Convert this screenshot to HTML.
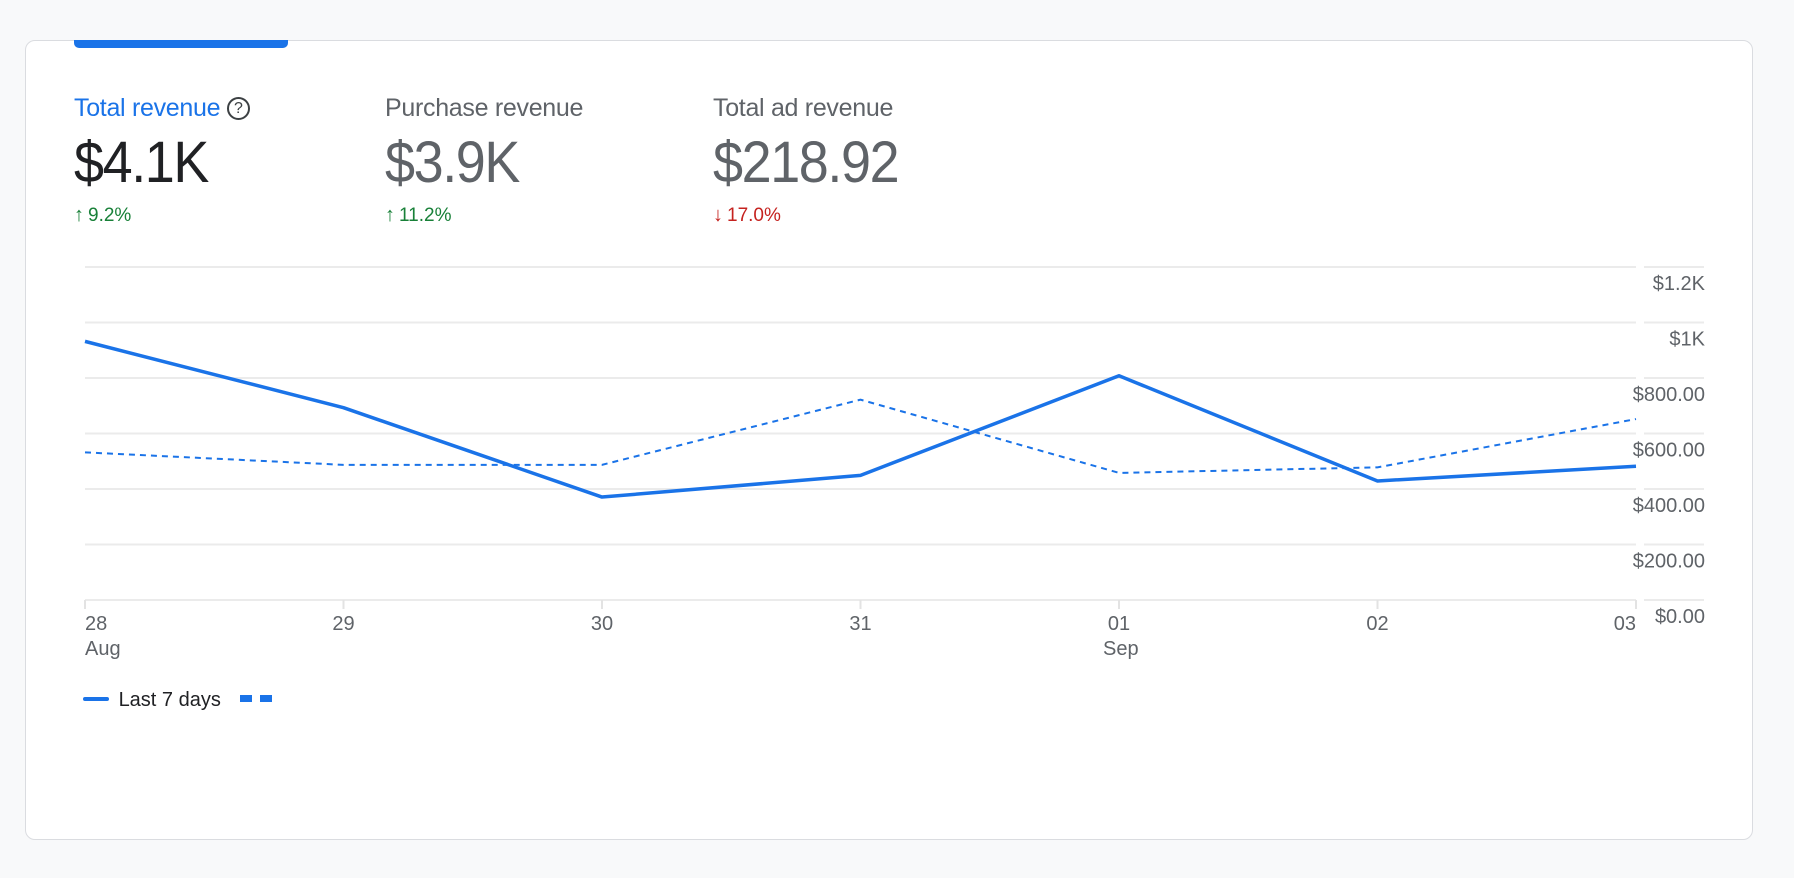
<!DOCTYPE html>
<html><head><meta charset="utf-8">
<style>
html,body{margin:0;padding:0;background:#f8f9fa;}
body{width:1794px;height:878px;position:relative;overflow:hidden;font-family:"Liberation Sans",Arial,sans-serif;}
.card{position:absolute;left:25px;top:40px;width:1728px;height:800px;background:#fff;border:1.5px solid #dadce0;border-radius:10px;box-sizing:border-box;}
.tab{position:absolute;left:74px;top:40px;width:214px;height:8px;background:#1a73e8;border-radius:0 0 5px 5px;}
.m{position:absolute;}
.t{font-size:25px;color:#5f6368;letter-spacing:-0.3px;white-space:nowrap;}
.v{font-size:58px;color:#5f6368;letter-spacing:-1.5px;white-space:nowrap;transform:scaleX(0.93);transform-origin:left center;}
.d{font-size:19px;white-space:nowrap;}
.d b{font-size:20px;margin-right:4px;}
</style></head><body>
<div class="card"></div>
<div class="tab"></div>

<div class="m" style="left:74px;top:94px">
 <div class="t" style="color:#1a73e8">Total revenue <span style="display:inline-block;width:23px;height:23px;border:2px solid #3c4043;border-radius:50%;box-sizing:border-box;font-size:16px;line-height:20px;text-align:center;color:#3c4043;vertical-align:3px">?</span></div>
 <div class="v" style="color:#202124;margin-top:6px">$4.1K</div>
 <div class="d" style="color:#188038;margin-top:8px"><b>↑</b>9.2%</div>
</div>
<div class="m" style="left:385px;top:94px">
 <div class="t">Purchase revenue</div>
 <div class="v" style="margin-top:6px">$3.9K</div>
 <div class="d" style="color:#188038;margin-top:8px"><b>↑</b>11.2%</div>
</div>
<div class="m" style="left:713px;top:94px">
 <div class="t">Total ad revenue</div>
 <div class="v" style="margin-top:6px">$218.92</div>
 <div class="d" style="color:#c5221f;margin-top:8px"><b>↓</b>17.0%</div>
</div>

<svg id="chart" width="1794" height="878" style="position:absolute;left:0;top:0"></svg>

<div class="m" style="left:83px;top:689px;font-size:20px;color:#202124;white-space:nowrap">
 <span style="display:inline-block;width:26px;height:4px;background:#1a73e8;border-radius:2px;vertical-align:5px"></span>
 <span style="margin-left:4px">Last 7 days</span>
 <span style="display:inline-block;width:12px;height:7px;background:#1a73e8;vertical-align:4px;margin-left:14px"></span><span style="display:inline-block;width:12px;height:7px;background:#1a73e8;vertical-align:4px;margin-left:8px"></span>
</div>

<script>
const categories=["28","29","30","31","01","02","03"];
const subLabels=["Aug","","","","Sep","",""];
const currentValues=[932,693,371,449,808,429,482];
const previousValues=[532,487,487,722,458,478,652];
const yTicks=[0,200,400,600,800,1000,1200];
const yTickLabels=["$0.00","$200.00","$400.00","$600.00","$800.00","$1K","$1.2K"];

const svg=document.getElementById('chart');
const NS='http://www.w3.org/2000/svg';
const X0=85,X1=1636,Y0=600,Y1=267,YMAX=1200;
const x=i=>X0+(X1-X0)*i/(categories.length-1);
const y=v=>Y0-(Y0-Y1)*v/YMAX;
function mk(t,a){const e=document.createElementNS(NS,t);for(const k in a)e.setAttribute(k,a[k]);svg.appendChild(e);return e;}

yTicks.forEach((v,i)=>{
  const g=mk('line',{x1:X0,x2:X1,y1:y(v),y2:y(v),stroke:'#ebebeb','stroke-width':2});
  
  
  const g2=mk('line',{x1:1644,x2:1704,y1:y(v),y2:y(v),stroke:'#ebebeb','stroke-width':2});
  
  
  const t=mk('text',{x:1705,y:y(v)+23,'text-anchor':'end','font-size':20,fill:'#5f6368','font-family':'Liberation Sans, Arial, sans-serif'});
  t.textContent=yTickLabels[i];
  
  
});
categories.forEach((c,i)=>{
  const tk=mk('line',{x1:x(i),x2:x(i),y1:Y0,y2:Y0+9,stroke:'#e3e3e3','stroke-width':2});
  
  
  const anchor=i===0?'start':(i===categories.length-1?'end':'middle');
  const t=mk('text',{x:x(i),y:630,'text-anchor':anchor,'font-size':20,fill:'#5f6368','font-family':'Liberation Sans, Arial, sans-serif'});
  t.textContent=c;
  
  
  if(subLabels[i]){
    const s=mk('text',{x:x(i)+(i===0?0:-16),y:655,'font-size':20,fill:'#5f6368','font-family':'Liberation Sans, Arial, sans-serif'});
    s.textContent=subLabels[i];
    
    
  }
});
const pts=a=>a.map((v,i)=>x(i)+','+y(v)).join(' ');
const prev=mk('polyline',{points:pts(previousValues),fill:'none',stroke:'#1a73e8','stroke-width':2,'stroke-dasharray':'6,5'});


const cur=mk('polyline',{points:pts(currentValues),fill:'none',stroke:'#1a73e8','stroke-width':3.5,'stroke-linejoin':'round'});


</script>
</body></html>
